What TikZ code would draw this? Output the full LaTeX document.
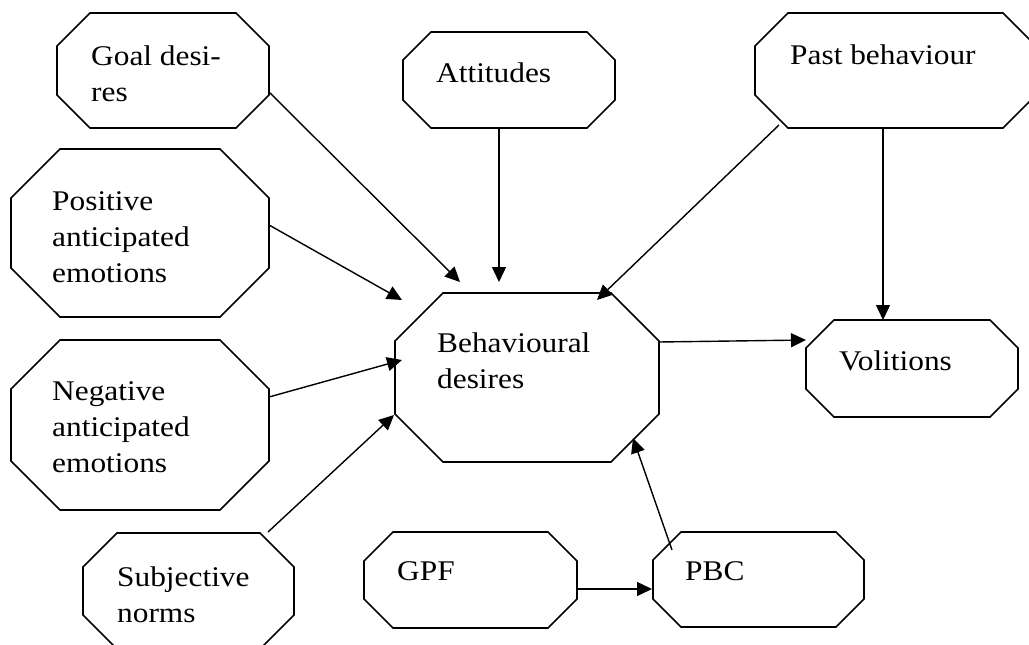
\documentclass[tikz,border=0pt]{standalone}
\usepackage{fontspec}
\setmainfont{Liberation Serif}[FakeStretch=1.1]
\usetikzlibrary{arrows.meta}
% octagonal frame around a named node: #1 = node, #2 = corner cut (pt)
\newcommand\octframe[2]{%
  \draw[frame] ([xshift=#2pt]#1.north west) -- ([xshift=-#2pt]#1.north east)
    -- ([yshift=-#2pt]#1.north east) -- ([yshift=#2pt]#1.south east)
    -- ([xshift=-#2pt]#1.south east) -- ([xshift=#2pt]#1.south west)
    -- ([yshift=#2pt]#1.south west) -- ([yshift=-#2pt]#1.north west) -- cycle;}
\begin{document}
\begin{tikzpicture}[x=1pt,y=-1pt,
  box/.style={rectangle, inner sep=0pt, outer sep=0pt},
  frame/.style={line width=1.6pt, line join=miter},
  lbl/.style={anchor=base west, inner sep=0pt, align=left,
    font=\fontsize{28.5}{36}\selectfont},
  link/.style={-{Triangle[length=15pt,width=14pt]}, line width=1.4pt}]
\useasboundingbox (0,0) rectangle (1029,645);
\clip (0,0) rectangle (1029,645);

% boxes
\node[box, minimum width=212, minimum height=115] (gd)  at (163,70.5) {};
\node[box, minimum width=212, minimum height=96]  (att) at (509,80) {};
\node[box, minimum width=281, minimum height=115] (pb)  at (895.5,70.5) {};
\node[box, minimum width=258, minimum height=168] (pos) at (140,233) {};
\node[box, minimum width=258, minimum height=170] (neg) at (140,425) {};
\node[box, minimum width=264, minimum height=169] (bd)  at (527,377.5) {};
\node[box, minimum width=212, minimum height=97]  (vol) at (912,368.5) {};
\node[box, minimum width=211, minimum height=116] (sn)  at (188.5,591) {};
\node[box, minimum width=213, minimum height=96]  (gpf) at (470.5,580) {};
\node[box, minimum width=211, minimum height=95]  (pbc) at (758.5,579.5) {};

\octframe{gd}{33}
\octframe{att}{28}
\octframe{pb}{33}
\octframe{pos}{49}
\octframe{neg}{49}
\octframe{bd}{48}
\octframe{vol}{28}
\octframe{sn}{34}
\octframe{gpf}{29}
\octframe{pbc}{28}

% labels (anchored at the baseline of the last line)
\node[lbl] (gd-t)  at (91,101)  {Goal desi-\\res};
\node[lbl] (att-t) at (436,82)  {Attitudes};
\node[lbl] (pb-t)  at (790,64)  {Past behaviour};
\node[lbl] (pos-t) at (52,282)  {Positive\\anticipated\\emotions};
\node[lbl] (neg-t) at (52,472)  {Negative\\anticipated\\emotions};
\node[lbl] (bd-t)  at (437,388) {Behavioural\\desires};
\node[lbl] (vol-t) at (839,370) {Volitions};
\node[lbl] (sn-t)  at (117,622) {Subjective\\norms};
\node[lbl] (gpf-t) at (397,580) {GPF};
\node[lbl] (pbc-t) at (685,580) {PBC};

% connector end points
\coordinate (gd-o)  at (269,92);   \coordinate (bd-i1) at (460,282);
\coordinate (att-o) at (499,128);  \coordinate (bd-i2) at (499,282);
\coordinate (pb-o1) at (779,125);  \coordinate (bd-i3) at (597,300);
\coordinate (pb-o2) at (883,128);  \coordinate (vol-i1) at (883,320);
\coordinate (pos-o) at (269,225);  \coordinate (bd-i4) at (402,300);
\coordinate (neg-o) at (269,397);  \coordinate (bd-i5) at (402,360);
\coordinate (sn-o)  at (268,532);  \coordinate (bd-i6) at (394,415);
\coordinate (bd-o)  at (659,342);  \coordinate (vol-i2) at (806,340);
\coordinate (pbc-o) at (672,550);  \coordinate (bd-i7) at (633,438);
\coordinate (gpf-o) at (577,589);  \coordinate (pbc-i) at (652,589);

% connectors
\draw[link] (gd-o)  -- (bd-i1);
\draw[link] (att-o) -- (bd-i2);
\draw[link] (pb-o1) -- (bd-i3);
\draw[link] (pb-o2) -- (vol-i1);
\draw[link] (pos-o) -- (bd-i4);
\draw[link] (neg-o) -- (bd-i5);
\draw[link] (sn-o)  -- (bd-i6);
\draw[link] (bd-o)  -- (vol-i2);
\draw[link] (pbc-o) -- (bd-i7);
\draw[link] (gpf-o) -- (pbc-i);
\end{tikzpicture}
\end{document}
